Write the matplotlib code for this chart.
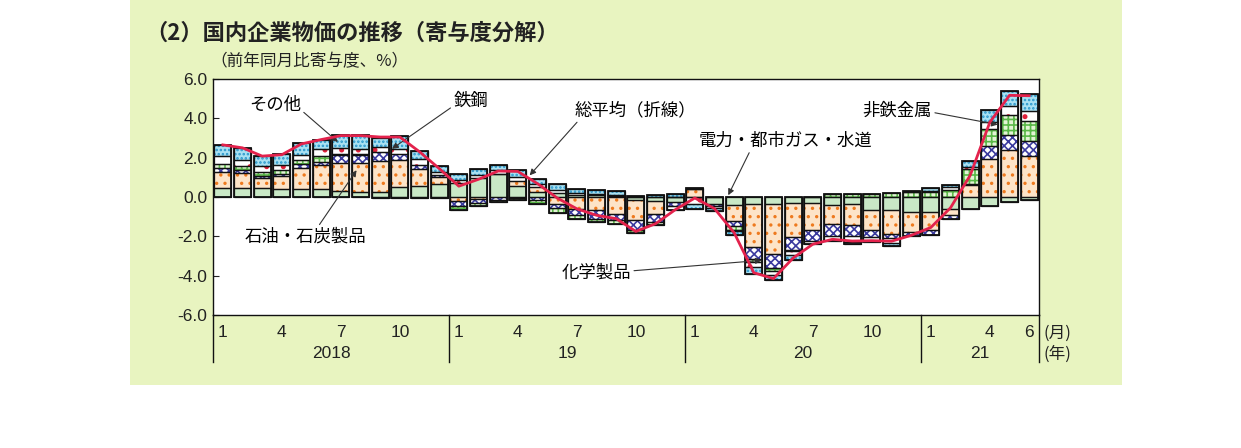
import numpy as np
import matplotlib
matplotlib.use("Agg")
import matplotlib.pyplot as plt
from matplotlib.patches import Rectangle
from matplotlib.transforms import blended_transform_factory

plt.rcParams['font.family'] = ['Noto Sans CJK JP', 'DejaVu Sans']
plt.rcParams['axes.unicode_minus'] = False
plt.rcParams['hatch.linewidth'] = 1.2

# ---------------- data (contributions, %pt, Jan 2018 - Jun 2021) ----------------
months = list(range(42))
elec = [0.47, 0.47, 0.47, 0.42, 0.42, 0.42, 0.30, 0.25, 0.25, 0.50, 0.57, 0.68,
        0.71, 0.97, 1.19, 0.54, 0.25, 0.20, 0.10, 0.08, 0.05, -0.13, -0.20, -0.25,
        0.00, -0.38, -0.42, -0.34, -0.34, -0.29, -0.29, -0.42, -0.37, -0.64, -0.64, -0.76,
        -0.76, -0.60, -0.60, -0.47, -0.25, -0.17]
oil = [0.80, 0.75, 0.50, 0.63, 1.07, 1.19, 1.44, 1.50, 1.60, 1.36, 0.85, 0.34,
       -0.20, -0.08, 0.00, 0.27, 0.27, -0.35, -0.60, -0.68, -0.85, -1.05, -0.68, 0.00,
       0.42, 0.00, -0.80, -2.20, -2.58, -1.75, -1.37, -0.93, -1.07, -1.02, -1.22, -1.02,
       -0.93, -0.34, 0.60, 1.95, 2.40, 2.07]
chem = [0.22, 0.15, 0.12, 0.10, 0.17, 0.17, 0.39, 0.39, 0.42, 0.34, 0.22, 0.08,
        -0.27, -0.20, -0.15, -0.05, -0.17, -0.22, -0.34, -0.42, -0.34, -0.50, -0.37, -0.22,
        0.00, -0.10, -0.27, -0.59, -0.68, -0.68, -0.60, -0.63, -0.56, -0.37, -0.25, -0.22,
        -0.25, -0.17, 0.05, 0.64, 0.73, 0.80]
nonferrous = [0.20, 0.20, 0.17, 0.20, 0.20, 0.30, 0.05, 0.03, -0.05, -0.05, -0.05, -0.05,
              -0.17, -0.17, -0.10, -0.10, -0.17, -0.22, -0.17, -0.17, -0.17, -0.17, -0.17, 0.00,
              0.05, 0.00, -0.20, -0.17, -0.14, -0.05, 0.00, 0.14, 0.14, 0.17, 0.20, 0.27,
              0.25, 0.35, 0.76, 0.88, 1.02, 0.98]
steel = [0.37, 0.30, 0.30, 0.30, 0.30, 0.34, 0.29, 0.29, 0.25, 0.25, 0.30, 0.17,
         0.17, 0.14, 0.17, 0.20, 0.13, 0.17, 0.10, 0.08, 0.06, 0.00, 0.00, -0.17,
         -0.34, -0.10, -0.05, -0.25, -0.22, -0.17, -0.15, -0.25, -0.29, -0.25, -0.25, 0.00,
         0.03, 0.15, 0.10, 0.34, 0.50, 0.50]
other = [0.60, 0.60, 0.50, 0.54, 0.60, 0.50, 0.68, 0.68, 0.50, 0.63, 0.40, 0.29,
         0.30, 0.29, 0.25, 0.35, 0.25, 0.30, 0.22, 0.20, 0.19, 0.05, 0.12, 0.15,
         -0.25, -0.12, -0.17, -0.34, -0.25, -0.27, 0.00, 0.00, -0.10, 0.00, -0.14, 0.03,
         0.20, 0.10, 0.30, 0.60, 0.76, 0.90]
total = [2.65, 2.50, 2.08, 2.15, 2.70, 2.92, 3.12, 3.12, 3.05, 3.05, 2.30, 1.45,
         0.55, 0.90, 1.32, 1.30, 0.68, -0.05, -0.60, -0.93, -1.10, -1.75, -1.36, -0.65,
         -0.05, -0.59, -1.82, -3.85, -4.15, -3.10, -2.40, -2.15, -2.24, -2.22, -2.25, -1.95,
         -1.55, -0.55, 1.10, 3.80, 5.17, 5.15]

month_tick_pos = [0, 3, 6, 9, 12, 15, 18, 21, 24, 27, 30, 33, 36, 39, 41]
month_tick_lab = ['1', '4', '7', '10', '1', '4', '7', '10', '1', '4', '7', '10', '1', '4', '6']
year_pos = [5.5, 17.5, 29.5, 38.5]
year_lab = ['2018', '19', '20', '21']
year_sep = [-0.5, 11.5, 23.5, 35.5, 41.5]

series = [
    (elec,       '#c9e8c6', None,   None),
    (oil,        '#fde4c8', '..',   '#ee7a1e'),
    (chem,       '#ffffff', 'xxxx', '#3a3a9e'),
    (nonferrous, '#e2f4d4', '+++',  '#5ab848'),
    (steel,      '#ffffff', '.',    '#e0203a'),
    (other,      '#a9e1f2', '....', '#2a98cc'),
]

NUMFONT = ['Liberation Sans', 'DejaVu Sans']

# ---------------- figure ----------------
W, H = 1241, 448
fig = plt.figure(figsize=(W / 100, H / 100), dpi=100)
fig.patch.set_facecolor('white')
bg = Rectangle((130 / W, 1 - 385 / H), (1122 - 130) / W, 385 / H,
               transform=fig.transFigure, facecolor='#e8f4c0', edgecolor='none', zorder=-10)
fig.patches.append(bg)

ax = fig.add_axes([213 / W, 1 - 315 / H, (1039 - 213) / W, (315 - 79) / H])
ax.set_facecolor('white')

x = np.array(months)
pos_b = np.zeros(len(x))
neg_b = np.zeros(len(x))
bw = 0.88
for vals, face, hatch, hcol in series:
    v = np.array(vals, dtype=float)
    b = np.where(v >= 0, pos_b, neg_b)
    if hatch:
        ax.bar(x, v, bw, bottom=b, color=face, hatch=hatch, edgecolor=hcol, linewidth=0, zorder=2)
    else:
        ax.bar(x, v, bw, bottom=b, color=face, linewidth=0, zorder=2)
    ax.bar(x, v, bw, bottom=b, fill=False, edgecolor='#111111', linewidth=0.9, zorder=3)
    pos_b = pos_b + np.where(v >= 0, v, 0)
    neg_b = neg_b + np.where(v < 0, v, 0)

# outer outline of each bar
ax.bar(x, pos_b - neg_b, bw, bottom=neg_b, fill=False, edgecolor='#111111', linewidth=1.3, zorder=3)

ax.plot(x, total, color='#e3224c', lw=2.0, zorder=5)

ax.set_xlim(-0.5, 41.5)
ax.set_ylim(-6, 6)
ax.set_yticks([6, 4, 2, 0, -2, -4, -6])
ax.set_yticklabels(['6.0', '4.0', '2.0', '0.0', '-2.0', '-4.0', '-6.0'], family=NUMFONT)
ax.tick_params(axis='y', direction='in', length=4, width=0.8, labelsize=12.5, pad=4, colors='#222222')
ax.set_xticks(month_tick_pos)
ax.set_xticklabels(month_tick_lab, family=NUMFONT)
ax.tick_params(axis='x', length=0, labelsize=12.5, pad=7, colors='#222222')
for s in ax.spines.values():
    s.set_linewidth(1.0)
    s.set_color('#111111')

trans = blended_transform_factory(ax.transData, ax.transAxes)
for xs in year_sep:
    ax.plot([xs, xs], [0, -0.20], transform=trans, color='#111111', lw=1.0, clip_on=False)
for xp, lab in zip(year_pos, year_lab):
    ax.text(xp, -0.165, lab, transform=trans, ha='center', va='center', fontsize=12.5,
            color='#222222', family=NUMFONT)
ax.text(41.72, -0.077, '(月)', transform=trans, ha='left', va='center', fontsize=12, color='#222222')
ax.text(41.72, -0.165, '(年)', transform=trans, ha='left', va='center', fontsize=12, color='#222222')

# titles
fig.text(145 / W, 1 - 33 / H, '（2）国内企業物価の推移（寄与度分解）', fontsize=16, fontweight='bold',
         ha='left', va='center', color='#222222')
fig.text(210 / W, 1 - 62 / H, '（前年同月比寄与度、%）', fontsize=12, ha='left', va='center', color='#222222')

# annotations
FS = 12.5
ap = dict(arrowstyle='-|>', color='#333333', lw=0.8, mutation_scale=9, shrinkA=0, shrinkB=0)
ax.annotate('その他', xy=(5.85, 2.8), xytext=(2.65, 4.7), fontsize=FS, ha='center', va='center',
            arrowprops=dict(ap, relpos=(1.0, 0.2)))
ax.annotate('鉄鋼', xy=(8.6, 2.45), xytext=(12.6, 4.9), fontsize=FS, ha='center', va='center',
            arrowprops=dict(ap, relpos=(0.0, 0.2)))
ax.annotate('総平均（折線）', xy=(15.6, 1.1), xytext=(21.0, 4.4), fontsize=FS, ha='center', va='center',
            arrowprops=dict(ap, relpos=(0.05, 0.1)))
ax.annotate('電力・都市ガス・水道', xy=(25.7, 0.09), xytext=(28.6, 2.85), fontsize=FS, ha='center', va='center',
            arrowprops=dict(ap, relpos=(0.3, 0.0)))
ax.annotate('石油・石炭製品', xy=(6.8, 1.36), xytext=(4.2, -2.0), fontsize=FS, ha='center', va='center',
            arrowprops=dict(ap, relpos=(0.6, 1.0)))
ax.annotate('化学製品', xy=(27.4, -3.22), xytext=(19.0, -3.85), fontsize=FS, ha='center', va='center',
            arrowprops=dict(ap, relpos=(1.0, 0.6)))
ax.annotate('非鉄金属', xy=(39.4, 3.68), xytext=(34.3, 4.4), fontsize=FS, ha='center', va='center',
            arrowprops=dict(ap, relpos=(1.0, 0.4)))

fig.savefig('out.png', dpi=100, facecolor=fig.get_facecolor())
